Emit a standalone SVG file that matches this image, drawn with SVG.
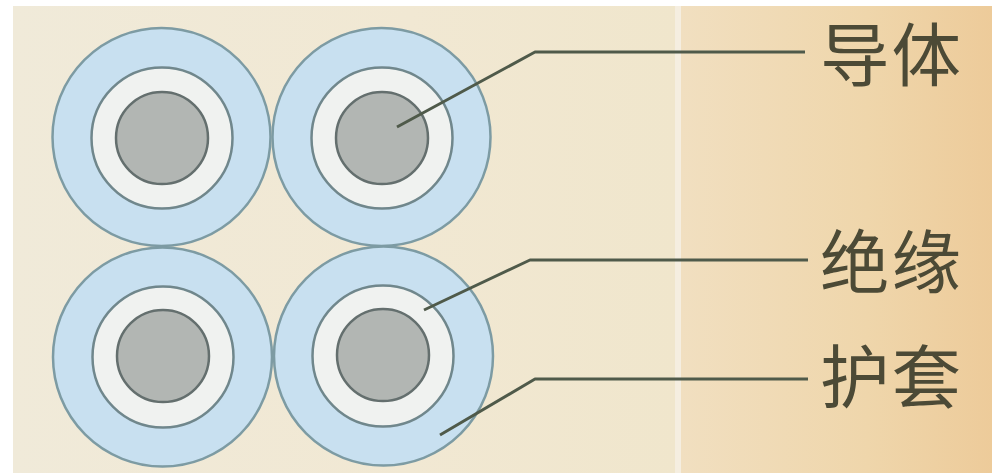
<svg xmlns="http://www.w3.org/2000/svg" width="996" height="473" viewBox="0 0 996 473">
<defs>
<linearGradient id="bgL" x1="0" x2="1" y1="0" y2="0"><stop offset="0" stop-color="#f0ead9"/><stop offset="0.6" stop-color="#f1e8d3"/><stop offset="1" stop-color="#f0e6cc"/></linearGradient>
<linearGradient id="bgR" x1="0" x2="1" y1="0" y2="0"><stop offset="0" stop-color="#f1dfc0"/><stop offset="0.6" stop-color="#efd6ab"/><stop offset="1" stop-color="#edcb9a"/></linearGradient>
</defs>
<style>
.o{fill:#c8e0f0;stroke:#7d9ba3;stroke-width:2.5}
.m{fill:#f0f2f0;stroke:#70878c;stroke-width:2.5}
.i{fill:#b2b6b3;stroke:#646f6e;stroke-width:2.5}
.l{fill:none;stroke:#4f5a4a;stroke-width:3;stroke-linejoin:round}
text{font-family:"Noto Sans CJK SC","Noto Sans",sans-serif;font-size:69.5px;font-weight:400;fill:#4c4a36;letter-spacing:2px}
</style>
<rect width="996" height="473" fill="#ffffff"/>
<rect id="bg-left" x="13" y="6" width="662" height="467" fill="url(#bgL)"/>
<rect id="bg-stripe" x="675" y="6" width="6" height="467" fill="#f5eee0"/>
<rect id="bg-right" x="681" y="6" width="311" height="467" fill="url(#bgR)"/>
<g id="cable-1"><circle class="o" cx="161.500" cy="137" r="109"/><circle class="m" cx="162" cy="138" r="70.500"/><circle class="i" cx="162" cy="138" r="46"/></g>
<g id="cable-2"><circle class="o" cx="381.500" cy="137" r="109"/><circle class="m" cx="382" cy="138" r="70.500"/><circle class="i" cx="382" cy="138" r="46"/></g>
<g id="cable-3"><circle class="o" cx="162.500" cy="357" r="109.500"/><circle class="m" cx="163" cy="357" r="70.500"/><circle class="i" cx="163" cy="356" r="46"/></g>
<g id="cable-4"><circle class="o" cx="383.500" cy="356" r="109.500"/><circle class="m" cx="383" cy="356" r="70.500"/><circle class="i" cx="383" cy="355" r="46"/></g>
<g id="connectors">
<path class="l" d="M397 127L535 52H805"/>
<path class="l" d="M424 310L530 260H808"/>
<path class="l" d="M440 435L535 379H808"/>
</g>
<g id="label-conductor"><text x="820" y="81">导体</text></g>
<g id="label-insulation"><text x="820" y="288">绝缘</text></g>
<g id="label-sheath"><text x="820" y="403">护套</text></g>
</svg>
